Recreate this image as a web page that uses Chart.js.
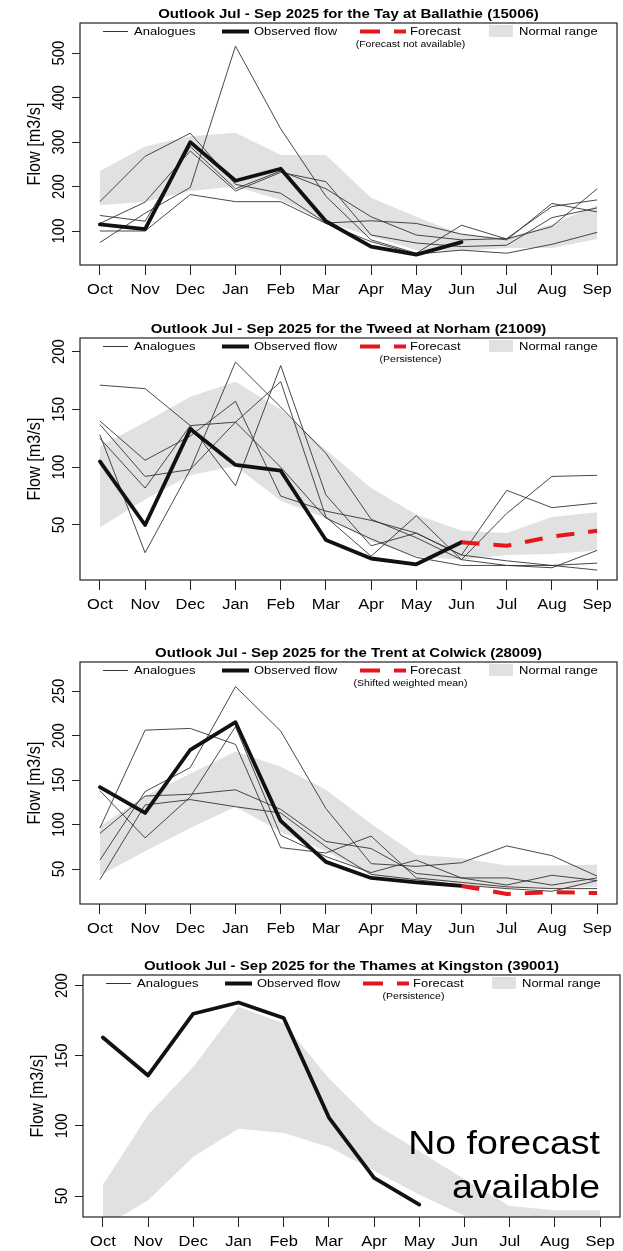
<!DOCTYPE html>
<html>
<head>
<meta charset="utf-8">
<title>Outlook Jul - Sep 2025</title>
<script src="https://cdn.jsdelivr.net/npm/chart.js@4.4.1/dist/chart.umd.min.js"></script>
<style>
    html, body { margin: 0; padding: 0; background: #fff; }
    body { width: 623px; height: 1251px; position: relative; overflow: hidden; }
    .panel { position: absolute; left: 0; width: 623px; height: 300px; }
</style>
</head>
<body>
<div class="panel" style="top:0px"><canvas id="tay" width="623" height="300"></canvas></div>
<div class="panel" style="top:315px"><canvas id="tweed" width="623" height="300"></canvas></div>
<div class="panel" style="top:639px"><canvas id="trent" width="623" height="300"></canvas></div>
<div class="panel" style="top:952px; left:3px"><canvas id="thames" width="623" height="300"></canvas></div>
<script>
// 月份
const months = ['Oct', 'Nov', 'Dec', 'Jan', 'Feb', 'Mar', 'Apr', 'May', 'Jun', 'Jul', 'Aug', 'Sep'];

// Tay at Ballathie (15006)
const tayObserved = [115, 104, 300, 213, 240, 122, 65, 47, 75];
const tayForecast = [];
const tayUpper = [235, 290, 313, 321, 271, 271, 175, 132, 92, 84, 115, 158];
const tayLower = [158, 166, 190, 200, 170, 120, 88, 57, 55, 62, 62, 82];
const tayAnalogues = [
    [74, 140, 198, 516, 330, 178, 80, 50, 113, 82, 110, 195],
    [166, 268, 320, 205, 185, 118, 123, 117, 93, 80, 162, 143],
    [135, 122, 290, 195, 235, 195, 132, 91, 80, 83, 155, 170],
    [117, 165, 280, 190, 232, 211, 91, 73, 65, 68, 130, 152],
    [100, 100, 182, 166, 166, 117, 76, 48, 57, 50, 70, 97]
];
const tayTicks = [100, 200, 300, 400, 500];

// Tweed at Norham (21009)
const tweedObserved = [105, 50, 133, 102, 97, 37, 21, 16, 35];
const tweedForecast = [null, null, null, null, null, null, null, null, 35, 32, 40, 45];
const tweedUpper = [118, 139, 161, 174, 150, 115, 82, 59, 45, 43, 57, 61];
const tweedLower = [48, 72, 93, 101, 71, 56, 36, 23, 20, 24, 25, 28];
const tweedAnalogues = [
    [171, 168, 136, 84, 188, 76, 32, 43, 24, 80, 65, 69],
    [140, 106, 127, 157, 75, 62, 54, 43, 24, 19, 15, 11],
    [137, 92, 98, 191, 152, 112, 55, 39, 20, 60, 92, 93],
    [125, 82, 136, 139, 174, 57, 23, 58, 20, 15, 13, 28],
    [128, 26, 98, 139, 100, 56, 38, 22, 15, 15, 15, 17]
];
const tweedTicks = [50, 100, 150, 200];

// Trent at Colwick (28009)
const trentObserved = [142, 113, 184, 215, 104, 58, 40, 35, 31];
const trentForecast = [null, null, null, null, null, null, null, null, 31, 22, 24, 23];
const trentUpper = [98, 132, 157, 182, 165, 139, 101, 66, 62, 54, 54, 55];
const trentLower = [43, 70, 96, 120, 92, 70, 43, 34, 32, 28, 28, 30];
const trentAnalogues = [
    [60, 137, 164, 255, 205, 118, 56, 53, 57, 76, 65, 42],
    [96, 206, 208, 190, 74, 68, 87, 40, 35, 30, 28, 28],
    [90, 132, 134, 139, 117, 81, 73, 45, 40, 40, 32, 40],
    [138, 85, 131, 210, 88, 64, 46, 60, 40, 32, 43, 37],
    [38, 122, 128, 120, 113, 75, 44, 38, 32, 28, 25, 37]
];
const trentTicks = [50, 100, 150, 200, 250];

// Thames at Kingston (39001)
const thamesObserved = [163, 136, 180, 188, 177, 106, 63, 44];
const thamesForecast = [];
const thamesUpper = [58, 108, 142, 185, 173, 134, 102, 82, 62, 43, 40, 40];
const thamesLower = [28, 47, 78, 98, 95, 85, 68, 51, 36, 34, 33, 33];
const thamesAnalogues = [];
const thamesTicks = [50, 100, 150, 200];

// 外觀設定
const FONT = '"Liberation Sans", Arial, Helvetica, sans-serif';
const BAND_COLOR = '#e1e1e1';
const LINE_COLOR = '#111';
const ANALOGUE_COLOR = '#333';
const FORECAST_COLOR = '#e5171c';
const SQUASH = 0.9;   // 原圖文字略扁

// 將數值轉成 {x, y} 點
function toPoints(values) {
    return values.map((v, i) => ({ x: i, y: v === null ? null : v }));
}

// 繪製文字（可旋轉）
function drawText(ctx, text, x, y, font, align, baseline, rotate) {
    ctx.save();
    ctx.translate(x, y);
    if (rotate) {
        ctx.rotate(-Math.PI / 2);
        ctx.scale(SQUASH, 1);
    } else {
        ctx.scale(1, SQUASH);
    }
    ctx.font = font;
    ctx.fillStyle = '#000';
    ctx.textAlign = align;
    ctx.textBaseline = baseline;
    ctx.fillText(text, 0, 0);
    ctx.restore();
}

// 外框、標題、圖例、刻度文字
const panelDecor = {
    id: 'panelDecor',
    afterDatasetsDraw(chart, args, opts) {
        const ctx = chart.ctx;
        const { left, top, right, bottom } = chart.chartArea;
        const ly = top + 8.5;

        // 圖例
        ctx.save();
        ctx.strokeStyle = ANALOGUE_COLOR;
        ctx.lineWidth = 1;
        ctx.beginPath();
        ctx.moveTo(left + 23, ly);
        ctx.lineTo(left + 48, ly);
        ctx.stroke();

        ctx.strokeStyle = LINE_COLOR;
        ctx.lineWidth = 4;
        ctx.beginPath();
        ctx.moveTo(left + 142, ly);
        ctx.lineTo(left + 169, ly);
        ctx.stroke();

        ctx.strokeStyle = FORECAST_COLOR;
        ctx.beginPath();
        ctx.moveTo(left + 280, ly);
        ctx.lineTo(left + 300, ly);
        ctx.moveTo(left + 314, ly);
        ctx.lineTo(left + 326, ly);
        ctx.stroke();

        ctx.fillStyle = BAND_COLOR;
        ctx.fillRect(left + 409, top + 2, 24, 12);
        ctx.restore();

        const legendFont = '13px ' + FONT;
        drawText(ctx, 'Analogues', left + 54, ly, legendFont, 'left', 'middle');
        drawText(ctx, 'Observed flow', left + 174, ly, legendFont, 'left', 'middle');
        drawText(ctx, 'Forecast', left + 330, ly, legendFont, 'left', 'middle');
        drawText(ctx, 'Normal range', left + 439, ly, legendFont, 'left', 'middle');
        drawText(ctx, opts.subtitle, left + 330.5, top + 21, '10.5px ' + FONT, 'center', 'middle');

        if (opts.noForecast) {
            const big = '37.5px ' + FONT;
            drawText(ctx, 'No forecast', right - 20, bottom - 63, big, 'right', 'alphabetic');
            drawText(ctx, 'available', right - 20, bottom - 19, big, 'right', 'alphabetic');
        }
    },
    afterDraw(chart, args, opts) {
        const ctx = chart.ctx;
        const { left, top, right, bottom } = chart.chartArea;

        // 外框
        ctx.save();
        ctx.strokeStyle = '#222';
        ctx.lineWidth = 1.2;
        ctx.strokeRect(left, top, right - left, bottom - top);
        ctx.restore();

        // 標題
        drawText(ctx, opts.title, (left + right) / 2, top - 9, 'bold 15px ' + FONT, 'center', 'middle');

        // X 軸文字
        const xScale = chart.scales.x;
        months.forEach((m, i) => {
            drawText(ctx, m, xScale.getPixelForValue(i), bottom + 25, '16.5px ' + FONT, 'center', 'middle');
        });

        // Y 軸文字
        const yScale = chart.scales.y;
        opts.ticks.forEach(v => {
            drawText(ctx, String(v), left - 21, yScale.getPixelForValue(v), '16.5px ' + FONT, 'center', 'middle', true);
        });
        drawText(ctx, 'Flow [m3/s]', left - 45, (top + bottom) / 2, '18px ' + FONT, 'center', 'middle', true);
    }
};

// 建立單一圖表
function buildPanel(canvasId, cfg) {
    const datasets = [
        {
            data: toPoints(cfg.upper),
            borderColor: 'rgba(0,0,0,0)',
            borderWidth: 0,
            backgroundColor: BAND_COLOR,
            fill: '+1',
            order: 10
        },
        {
            data: toPoints(cfg.lower),
            borderColor: 'rgba(0,0,0,0)',
            borderWidth: 0,
            fill: false,
            order: 10
        }
    ];

    cfg.analogues.forEach(series => {
        datasets.push({
            data: toPoints(series),
            borderColor: ANALOGUE_COLOR,
            borderWidth: 0.9,
            fill: false,
            order: 5
        });
    });

    datasets.push({
        data: toPoints(cfg.observed),
        borderColor: LINE_COLOR,
        borderWidth: 3.8,
        borderCapStyle: 'round',
        borderJoinStyle: 'round',
        fill: false,
        order: 2
    });

    if (cfg.forecast.length) {
        datasets.push({
            data: toPoints(cfg.forecast),
            borderColor: FORECAST_COLOR,
            borderWidth: 4,
            borderDash: [18, 14],
            borderCapStyle: 'butt',
            fill: false,
            order: 1
        });
    }

    return new Chart(document.getElementById(canvasId), {
        type: 'line',
        data: { datasets },
        options: {
            responsive: false,
            animation: false,
            elements: { point: { radius: 0 }, line: { tension: 0 } },
            layout: { padding: { top: 23, right: 6, left: 0, bottom: 0 } },
            plugins: {
                legend: { display: false },
                tooltip: { enabled: false },
                title: { display: false },
                panelDecor: {
                    title: cfg.title,
                    subtitle: cfg.subtitle,
                    ticks: cfg.ticks,
                    noForecast: cfg.noForecast
                }
            },
            scales: {
                x: {
                    type: 'linear',
                    min: -0.44,
                    max: 11.44,
                    afterBuildTicks: scale => { scale.ticks = months.map((m, i) => ({ value: i })); },
                    afterFit: scale => { scale.height = 35; },
                    ticks: { display: false },
                    grid: { display: true, drawOnChartArea: false, drawTicks: true, tickLength: 10, tickColor: '#222', tickWidth: 1 },
                    border: { display: false }
                },
                y: {
                    type: 'linear',
                    min: cfg.min,
                    max: cfg.max,
                    afterBuildTicks: scale => { scale.ticks = cfg.ticks.map(v => ({ value: v })); },
                    afterFit: scale => { scale.width = 80; },
                    ticks: { display: false },
                    grid: { display: true, drawOnChartArea: false, drawTicks: true, tickLength: 8, tickColor: '#222', tickWidth: 1 },
                    border: { display: false }
                }
            }
        },
        plugins: [panelDecor]
    });
}

document.addEventListener('DOMContentLoaded', () => {
    buildPanel('tay', {
        title: 'Outlook Jul - Sep 2025 for the Tay at Ballathie (15006)',
        subtitle: '(Forecast not available)',
        observed: tayObserved, forecast: tayForecast,
        upper: tayUpper, lower: tayLower, analogues: tayAnalogues,
        ticks: tayTicks, min: 23.5, max: 568
    });
    buildPanel('tweed', {
        title: 'Outlook Jul - Sep 2025 for the Tweed at Norham (21009)',
        subtitle: '(Persistence)',
        observed: tweedObserved, forecast: tweedForecast,
        upper: tweedUpper, lower: tweedLower, analogues: tweedAnalogues,
        ticks: tweedTicks, min: 2.4, max: 211.8
    });
    buildPanel('trent', {
        title: 'Outlook Jul - Sep 2025 for the Trent at Colwick (28009)',
        subtitle: '(Shifted weighted mean)',
        observed: trentObserved, forecast: trentForecast,
        upper: trentUpper, lower: trentLower, analogues: trentAnalogues,
        ticks: trentTicks, min: 10.7, max: 282.6
    });
    buildPanel('thames', {
        title: 'Outlook Jul - Sep 2025 for the Thames at Kingston (39001)',
        subtitle: '(Persistence)',
        observed: thamesObserved, forecast: thamesForecast,
        upper: thamesUpper, lower: thamesLower, analogues: thamesAnalogues,
        ticks: thamesTicks, min: 35.1, max: 207.6,
        noForecast: true
    });
});
</script>
</body>
</html>
